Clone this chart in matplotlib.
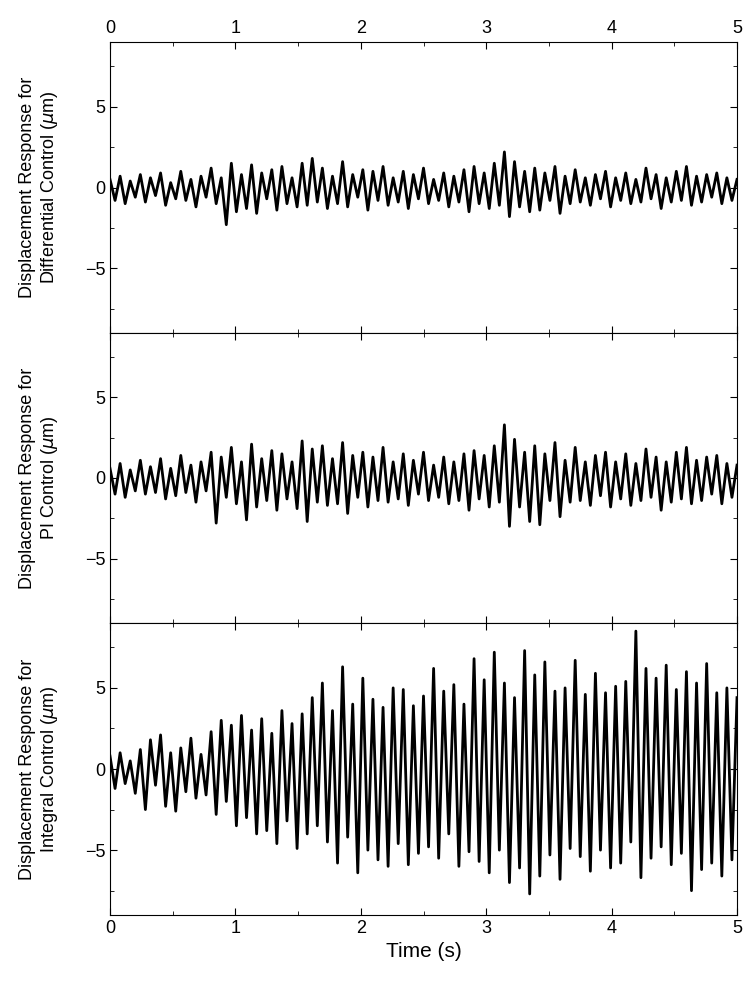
import numpy as np
import matplotlib
matplotlib.use("Agg")
import matplotlib.pyplot as plt
from matplotlib.ticker import MultipleLocator

plt.rcParams['font.family'] = ['Liberation Sans', 'DejaVu Sans']

diff_vals = [0.5,-0.8,0.7,-1.0,0.4,-0.6,0.8,-0.9,0.6,-0.5,
0.9,-1.1,0.3,-0.7,1.0,-0.8,0.5,-1.2,0.7,-0.6,
1.2,-1.0,0.6,-2.3,1.5,-1.5,0.8,-1.3,1.4,-1.6,
0.9,-0.7,1.1,-1.4,1.3,-1.0,0.6,-1.2,1.5,-1.1,
1.8,-0.9,1.2,-1.3,0.7,-1.0,1.6,-1.2,0.8,-0.6,
1.1,-1.4,1.0,-0.8,1.3,-1.1,0.6,-0.9,1.0,-1.3,
0.8,-0.7,1.2,-1.0,0.5,-0.8,0.9,-1.2,0.7,-0.9,
1.1,-1.5,1.3,-1.0,0.9,-1.3,1.5,-1.1,2.2,-1.8,
1.6,-1.2,1.0,-1.5,1.2,-1.4,0.9,-0.8,1.3,-1.6,
0.7,-1.0,1.1,-0.9,0.6,-1.1,0.8,-0.7,1.0,-1.2,
0.6,-0.8,0.9,-1.0,0.5,-0.9,1.2,-0.7,0.8,-1.3,
0.6,-0.9,1.0,-0.8,1.3,-1.1,0.7,-0.9,0.8,-0.6,
0.9,-1.0,0.6,-0.8,0.5]

pi_vals = [0.6,-1.0,0.9,-1.2,0.5,-0.8,1.1,-1.0,0.7,-0.9,
1.2,-1.3,0.6,-1.1,1.4,-0.9,0.8,-1.5,1.0,-0.8,
1.6,-2.8,1.3,-1.2,1.9,-1.6,1.0,-2.6,2.1,-1.8,
1.2,-1.4,1.7,-2.0,1.5,-1.3,1.0,-1.9,2.3,-2.7,
1.8,-1.5,2.0,-1.7,1.2,-1.6,2.2,-2.2,1.4,-1.2,
1.6,-1.8,1.3,-1.4,1.9,-1.5,1.0,-1.3,1.5,-1.7,
1.1,-1.0,1.6,-1.4,0.8,-1.2,1.3,-1.6,1.0,-1.4,
1.5,-2.0,1.7,-1.3,1.4,-1.8,2.0,-1.5,3.3,-3.0,
2.4,-1.8,1.6,-2.7,2.0,-2.9,1.5,-1.4,2.2,-2.4,
1.1,-1.5,1.9,-1.4,1.0,-1.7,1.4,-1.1,1.6,-1.8,
1.0,-1.3,1.5,-1.7,0.9,-1.4,1.8,-1.2,1.3,-2.0,
1.0,-1.5,1.6,-1.3,1.9,-1.6,1.1,-1.4,1.3,-1.0,
1.4,-1.6,0.9,-1.2,0.8]

int_vals = [0.8,-1.2,1.0,-0.9,0.5,-1.5,1.2,-2.5,1.8,-1.0,
2.1,-2.3,1.0,-2.6,1.3,-1.4,1.9,-1.8,0.9,-1.6,
2.3,-2.8,3.0,-2.0,2.7,-3.5,3.3,-3.0,2.4,-4.0,
3.1,-3.8,2.2,-4.6,3.6,-3.2,2.8,-4.9,3.4,-4.0,
4.4,-3.5,5.3,-4.5,3.6,-5.8,6.3,-4.2,4.0,-6.4,
5.6,-5.0,4.3,-5.6,3.8,-6.0,5.0,-4.6,4.9,-5.9,
3.9,-5.2,4.5,-4.8,6.2,-5.5,4.8,-4.0,5.2,-6.0,
4.0,-5.1,6.8,-5.7,5.5,-6.4,7.2,-5.0,5.3,-7.0,
4.4,-6.1,7.3,-7.7,5.8,-6.6,6.6,-5.3,4.8,-6.8,
5.0,-4.9,6.7,-5.4,4.6,-6.3,5.9,-5.0,4.7,-6.1,
5.1,-5.8,5.4,-4.5,8.5,-6.7,6.2,-5.5,5.6,-4.8,
6.4,-5.9,4.9,-5.2,6.0,-7.5,5.3,-6.2,6.5,-5.8,
4.7,-6.6,5.0,-5.6,4.4]

series = [diff_vals, pi_vals, int_vals]
ylabels = ["Displacement Response for\nDifferential Control ($\\mu$m)",
           "Displacement Response for\nPI Control ($\\mu$m)",
           "Displacement Response for\nIntegral Control ($\\mu$m)"]

fig = plt.figure(figsize=(7.49, 10), dpi=100)
L, R = 110/749, 737/749
tops = [42, 333, 623]
bots = [333, 623, 915]
for i, (vals, lab) in enumerate(zip(series, ylabels)):
    y0 = 1 - bots[i]/1000
    h = (bots[i]-tops[i])/1000
    ax = fig.add_axes([L, y0, R-L, h])
    t = np.linspace(0, 5, len(vals))
    ax.plot(t, vals, color='black', lw=2.0)
    ax.set_xlim(0, 5)
    ax.set_ylim(-9, 9)
    ax.set_yticks([-5, 0, 5])
    ax.yaxis.set_minor_locator(MultipleLocator(2.5))
    ax.xaxis.set_major_locator(MultipleLocator(1))
    ax.xaxis.set_minor_locator(MultipleLocator(0.5))
    ax.tick_params(which='both', direction='in', top=True, right=True, labelsize=13)
    ax.tick_params(which='major', length=5)
    ax.tick_params(which='minor', length=3)
    ax.tick_params(axis='x', labelbottom=(i == 2), labeltop=(i == 0))
    ax.set_ylabel(lab, fontsize=13, labelpad=18)
    if i == 2:
        ax.set_xlabel("Time (s)", fontsize=15)
fig.savefig("out.png", dpi=100)
